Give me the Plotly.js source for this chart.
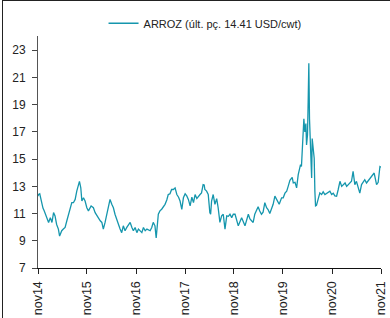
<!DOCTYPE html>
<html>
<head>
<meta charset="utf-8">
<script src="https://cdn.plot.ly/plotly-3.0.1.min.js"></script>
<style>
html,body{margin:0;padding:0;background:#fff;}
#wrap{position:relative;width:390px;height:318px;}
#chart{width:390px;height:318px;}
#frame{position:absolute;left:2px;top:0px;width:400px;height:330px;border-left:1.5px solid #222;border-top:1.5px solid #222;pointer-events:none;}
</style>
</head>
<body>
<div id="wrap"><div id="chart"></div><div id="frame"></div></div>
<script>
const seriesName = "ARROZ (últ. pç. 14.41 USD/cwt)";
const dates = [
"2014-11-01","2014-11-05","2014-11-14","2014-11-30","2014-12-08","2014-12-17","2014-12-28",
"2015-01-07","2015-01-19","2015-02-01","2015-02-13","2015-02-25","2015-03-08","2015-03-20",
"2015-04-02","2015-04-11","2015-04-22","2015-04-27","2015-05-09","2015-05-22","2015-06-04",
"2015-06-16","2015-06-28","2015-07-11","2015-07-23","2015-08-05","2015-08-17","2015-08-29",
"2015-09-06","2015-09-16","2015-09-24","2015-10-06","2015-10-18","2015-10-31","2015-11-12",
"2015-12-02","2015-12-19","2016-01-01","2016-01-14","2016-01-26","2016-02-08","2016-02-20",
"2016-03-02","2016-03-15","2016-03-27","2016-04-09","2016-04-21","2016-05-04","2016-05-16",
"2016-05-28","2016-06-10","2016-06-22","2016-07-05","2016-07-17","2016-07-29","2016-08-11",
"2016-08-24","2016-09-18","2016-10-01","2016-10-12","2016-10-25","2016-11-07","2016-11-19",
"2016-12-02","2016-12-14","2016-12-26","2017-01-08","2017-01-21","2017-02-14","2017-02-26",
"2017-03-09","2017-03-22","2017-03-31","2017-04-16","2017-04-28","2017-05-11","2017-05-23",
"2017-06-05","2017-06-18","2017-06-29","2017-07-12","2017-07-24","2017-08-06","2017-08-19",
"2017-09-01","2017-09-14","2017-09-25","2017-10-08","2017-10-20","2017-11-02","2017-11-14",
"2017-11-26","2017-12-09","2017-12-22","2018-01-03","2018-01-15","2018-01-28","2018-02-09",
"2018-02-21","2018-03-04","2018-03-16","2018-03-24","2018-03-29","2018-04-11","2018-04-23",
"2018-05-05","2018-05-11","2018-05-18","2018-05-30","2018-06-12","2018-06-25","2018-07-06",
"2018-07-19","2018-08-01","2018-08-13","2018-08-26","2018-09-08","2018-09-20","2018-10-02",
"2018-10-15","2018-10-27","2018-11-09","2018-12-03","2018-12-28","2019-01-22","2019-02-16",
"2019-02-28","2019-03-12","2019-03-24","2019-04-05","2019-04-18","2019-04-30","2019-05-12",
"2019-05-25","2019-06-06","2019-06-19","2019-07-02","2019-07-13","2019-07-26","2019-08-08",
"2019-08-20","2019-09-02","2019-09-15","2019-09-24","2019-10-04","2019-10-22","2019-11-03",
"2019-11-16","2019-11-29","2019-12-10","2019-12-23","2020-01-09","2020-01-17","2020-01-30",
"2020-02-11","2020-02-23","2020-03-02","2020-03-11","2020-03-18","2020-03-26","2020-04-05",
"2020-04-12","2020-04-20","2020-04-25","2020-05-02","2020-05-07","2020-05-12","2020-05-17",
"2020-05-25","2020-06-02","2020-06-06","2020-06-13","2020-06-21","2020-06-26","2020-07-01",
"2020-07-08","2020-07-20","2020-08-02","2020-08-15","2020-08-27","2020-09-09","2020-09-21",
"2020-10-03","2020-10-16","2020-10-29","2020-11-10","2020-11-22","2020-12-05","2020-12-17",
"2020-12-30","2021-01-12","2021-01-24","2021-02-06","2021-02-18","2021-03-01","2021-03-13",
"2021-03-26","2021-04-07","2021-04-14","2021-04-20","2021-05-02","2021-05-14","2021-05-27",
"2021-06-09","2021-06-21","2021-07-03","2021-07-16","2021-07-28","2021-08-10","2021-08-23",
"2021-09-04","2021-09-11","2021-09-29","2021-10-11","2021-10-24","2021-11-01"
];
const prices = [
12.28,12.4,12.45,11.68,11.4,11.2,10.9,
10.6,10.35,10.7,10.35,11.07,10.83,10.2,
9.86,9.35,9.6,9.74,9.86,9.98,10.47,
10.95,11.43,11.8,11.8,12.04,12.65,13.25,
13.37,12.9,11.92,12.16,11.92,11.43,11.2,
11.56,11.43,11.07,10.83,10.7,10.47,10.35,
9.86,10.35,10.95,11.43,12.04,11.68,11.43,
10.95,10.47,10.23,9.86,9.6,10.1,9.74,
9.98,10.35,9.98,9.74,9.98,9.6,9.86,
9.74,9.6,9.98,9.74,9.86,9.74,9.98,
10.35,10.1,9.2,10.95,11.2,11.32,11.5,
11.68,12.0,12.4,12.45,12.77,12.77,12.89,
12.4,12.2,11.92,11.3,12.16,12.45,12.3,
12.04,11.56,12.2,11.8,12.4,12.1,12.28,
12.4,12.52,13.13,13.1,12.77,12.65,12.4,
11.07,10.95,11.92,12.4,11.68,12.1,11.43,
10.35,10.83,10.95,9.86,10.83,10.8,10.95,
10.7,10.95,10.95,10.1,10.7,10.1,10.95,
10.6,10.47,10.35,10.95,11.3,11.5,11.19,
10.95,11.1,11.8,11.43,11.3,11.0,11.4,
11.68,12.28,12.04,11.9,11.68,12.16,12.16,
12.5,12.65,13.0,13.45,13.66,13.25,13.3,
12.89,13.86,14.2,14.59,14.46,16.52,17.97,
17.0,17.61,16.04,16.77,19.19,22.05,17.97,
16.04,13.61,16.52,15.8,15.07,12.65,11.56,
11.6,12.16,12.52,12.4,12.6,12.4,12.5,
12.6,12.65,12.4,12.5,12.3,12.28,12.77,
13.37,13.0,13.1,13.25,13.0,13.13,13.2,
13.37,14.1,13.6,13.13,13.37,12.9,12.5,
13.13,13.3,13.49,13.25,13.4,13.61,13.7,
13.86,13.98,13.13,13.3,14.46,14.41
];
const tickDates = ["2014-11-01","2015-11-01","2016-11-01","2017-11-01","2018-11-01","2019-11-01","2020-11-01","2021-11-01"];
const tickLabels = ["nov14","nov15","nov16","nov17","nov18","nov19","nov20","nov21"];
const yTicks = [7,9,11,13,15,17,19,21,23];

const trace = {
  x: dates, y: prices, type: "scatter", mode: "lines", name: seriesName,
  line: {color: "#1596ad", width: 1.3}
};
const layout = {
  width: 390, height: 318,
  margin: {l: 38, r: 9, t: 33, b: 50, pad: 0},
  paper_bgcolor: "#fff", plot_bgcolor: "#fff",
  font: {family: "Liberation Sans, Arial, sans-serif", size: 11, color: "#222"},
  showlegend: true,
  legend: {orientation: "h", x: 0.487, xanchor: "center", y: 1.055, yanchor: "middle",
           font: {size: 11, color: "#222"}, bgcolor: "rgba(0,0,0,0)", itemwidth: 30},
  xaxis: {type: "date", range: ["2014-11-01","2021-11-01"], tickvals: tickDates, ticktext: tickLabels,
          tickangle: -90, ticks: "outside", ticklen: 5, tickcolor: "#222", showgrid: false, zeroline: false,
          showline: true, linecolor: "#111", linewidth: 1.2, ticklabelstandoff: 2,
          tickfont: {size: 12.5, color: "#222"}},
  yaxis: {range: [7, 24.05], tickvals: yTicks, ticks: "outside", ticklen: 5, tickcolor: "#444",
          showgrid: false, zeroline: false, showline: true, linecolor: "#555", linewidth: 1,
          ticklabelstandoff: 4, tickfont: {size: 12, color: "#222"}}
};
Plotly.newPlot("chart", [trace], layout, {staticPlot: true, displayModeBar: false});
</script>
</body>
</html>
